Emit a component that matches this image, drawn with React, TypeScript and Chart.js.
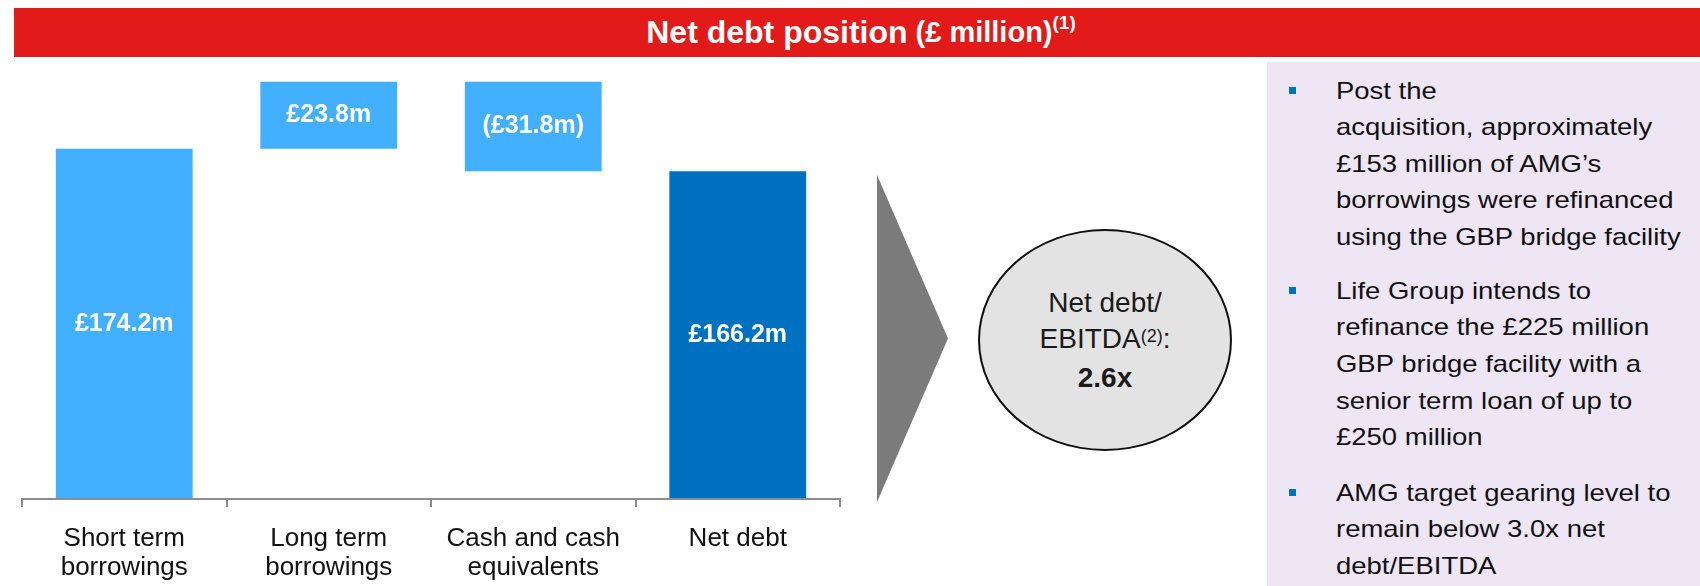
import React, { useEffect, useRef } from "react";
import { Chart, registerables } from "chart.js";

Chart.register(...registerables);

// ---------- data ----------
const categories: string[][] = [
  ["Short term", "borrowings"],
  ["Long term", "borrowings"],
  ["Cash and cash", "equivalents"],
  ["Net debt"],
];
const changes: number[] = [174.2, 23.8, -31.8, 166.2];
const isTotal: boolean[] = [false, false, false, true];
const barColors: string[] = ["#42B0FF", "#42B0FF", "#42B0FF", "#0070C0"];
const yAxisMin = 50;
const yAxisMax = 200;

const bullets: string[][] = [
  ["Post the", "acquisition, approximately", "£153 million of AMG’s", "borrowings were refinanced", "using the GBP bridge facility"],
  ["Life Group intends to", "refinance the £225 million", "GBP bridge facility with a", "senior term loan of up to", "£250 million"],
  ["AMG target gearing level to", "remain below 3.0x net", "debt/EBITDA"],
];

const FONT = '"Liberation Sans", Arial, Helvetica, sans-serif';

function buildRanges(): number[][] {
  let run = 0;
  return changes.map((v, i) => {
    if (isTotal[i]) {
      run = v;
      return [0, v];
    }
    const start = run;
    run = +(run + v).toFixed(1);
    return [Math.min(start, run), Math.max(start, run)];
  });
}

function labelText(v: number): string {
  return v < 0 ? `(£${Math.abs(v).toFixed(1)}m)` : `£${v.toFixed(1)}m`;
}

const valueLabels = {
  id: "valueLabels",
  afterDatasetsDraw(chart: any) {
    const { ctx, chartArea } = chart;
    const meta = chart.getDatasetMeta(0);
    ctx.save();
    ctx.font = `bold 25px ${FONT}`;
    ctx.fillStyle = "#FFFFFF";
    ctx.textAlign = "center";
    ctx.textBaseline = "middle";
    meta.data.forEach((bar: any, i: number) => {
      const p = bar.getProps(["x", "y", "base"], true);
      const top = Math.max(Math.min(p.y, p.base), chartArea.top);
      const bottom = Math.min(Math.max(p.y, p.base), chartArea.bottom);
      ctx.fillText(labelText(changes[i]), p.x, (top + bottom) / 2);
    });
    ctx.restore();
  },
};

function WaterfallChart() {
  const ref = useRef<HTMLCanvasElement | null>(null);
  useEffect(() => {
    if (!ref.current) return;
    const chart = new Chart(ref.current, {
      type: "bar",
      data: {
        labels: categories,
        datasets: [
          {
            data: buildRanges() as any,
            backgroundColor: barColors,
            borderWidth: 0,
            barPercentage: 0.669,
            categoryPercentage: 1,
            clip: 0,
          } as any,
        ],
      },
      options: {
        responsive: false,
        animation: false,
        layout: { padding: { left: 22, right: 20, top: 76, bottom: 0 } },
        plugins: {
          legend: { display: false },
          tooltip: { enabled: false },
          title: { display: false },
        },
        scales: {
          x: {
            grid: {
              display: true,
              drawOnChartArea: false,
              drawTicks: true,
              tickLength: 8,
              offset: true,
              color: "#8C8C8C",
              lineWidth: 2,
            },
            border: { display: true, color: "#8C8C8C", width: 2, z: 1 },
            ticks: {
              color: "#111111",
              font: { family: FONT, size: 26, lineHeight: 1.09 },
              padding: 18,
              maxRotation: 0,
              autoSkip: false,
            },
            afterFit: (s: any) => {
              s.height = 87;
            },
          } as any,
          y: { display: false, min: yAxisMin, max: yAxisMax },
        },
      },
      plugins: [valueLabels],
    });
    return () => chart.destroy();
  }, []);
  return (
    <canvas
      ref={ref}
      width={860}
      height={586}
      style={{ position: "absolute", left: 0, top: 0, width: 860, height: 586 }}
    />
  );
}

export default function App() {
  const paraTops = [72.7, 272.9, 474.9];
  return (
    <div
      style={{
        position: "absolute",
        left: 0,
        top: 0,
        width: 1700,
        height: 586,
        overflow: "hidden",
        background: "#FFFFFF",
        fontFamily: FONT,
      }}
    >
      <WaterfallChart />

      {/* title banner */}
      <div
        style={{
          position: "absolute",
          left: 14,
          top: 8,
          width: 1686,
          height: 49,
          background: "#E31A1A",
          color: "#FFFFFF",
          display: "flex",
          alignItems: "center",
          justifyContent: "center",
          paddingLeft: 8,
          boxSizing: "border-box",
          fontWeight: "bold",
          whiteSpace: "nowrap",
        }}
      >
        <span style={{ fontSize: 32 }}>Net debt position </span>
        <span style={{ fontSize: 29, marginLeft: 8 }}>(£ million)</span>
        <span style={{ fontSize: 19, position: "relative", top: -10 }}>(1)</span>
      </div>

      {/* chevron */}
      <div
        style={{
          position: "absolute",
          left: 877,
          top: 175,
          width: 71,
          height: 327,
          background: "#7B7B7B",
          clipPath: "polygon(0 0, 100% 50%, 0 100%)",
        }}
      />

      {/* ellipse */}
      <div
        style={{
          position: "absolute",
          left: 978,
          top: 229,
          width: 254,
          height: 222,
          borderRadius: "50%",
          background: "#E3E3E3",
          border: "2px solid #111111",
          boxSizing: "border-box",
        }}
      />
      <div
        style={{
          position: "absolute",
          left: 978,
          top: 285.3,
          width: 254,
          textAlign: "center",
          fontSize: 28,
          lineHeight: "36px",
          color: "#1A1A1A",
        }}
      >
        <div>Net debt/</div>
        <div>
          EBITDA
          <span style={{ fontSize: 18, position: "relative", top: -6 }}>(2)</span>:
        </div>
        <div style={{ fontWeight: "bold" }}>2.6x</div>
      </div>

      {/* right panel */}
      <div
        style={{
          position: "absolute",
          left: 1267,
          top: 62,
          width: 433,
          height: 524,
          background: "#EEE6F5",
        }}
      />
      {bullets.map((lines, i) => (
        <React.Fragment key={i}>
          <div
            style={{
              position: "absolute",
              left: 1289,
              top: paraTops[i] + 18 - 3.5,
              width: 7,
              height: 7,
              background: "#0070C0",
            }}
          />
          <div
            style={{
              position: "absolute",
              left: 1336,
              top: paraTops[i],
              fontSize: 24,
              lineHeight: "36.6px",
              color: "#111111",
              whiteSpace: "nowrap",
              transform: "scaleX(1.145)",
              transformOrigin: "left top",
            }}
          >
            {lines.map((l, j) => (
              <div key={j}>{l}</div>
            ))}
          </div>
        </React.Fragment>
      ))}
    </div>
  );
}
